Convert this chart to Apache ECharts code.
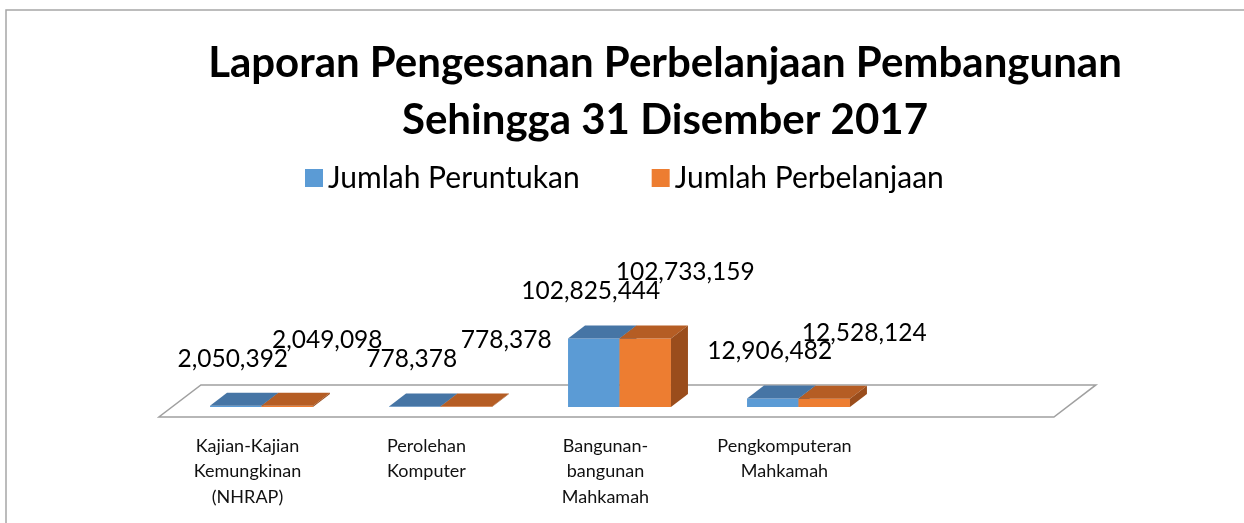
<!DOCTYPE html>
<html>
<head>
<meta charset="utf-8">
<script src="https://cdn.jsdelivr.net/npm/echarts@6/dist/echarts.min.js"></script>
<style>
  html, body { margin: 0; padding: 0; background: #fff; }
  #chart { width: 1244px; height: 523px; }
</style>
</head>
<body>
<div id="chart"></div>
<script>
  // data
  const categories = [
    "Kajian-Kajian\nKemungkinan\n(NHRAP)",
    "Perolehan\nKomputer",
    "Bangunan-\nbangunan\nMahkamah",
    "Pengkomputeran\nMahkamah",
    "",
  ]
  const seriesNames = ["Jumlah Peruntukan", "Jumlah Perbelanjaan"]
  const peruntukan = [2050392, 778378, 102825444, 12906482]
  const perbelanjaan = [2049098, 778378, 102733159, 12528124]

  const FONT = "Lato"
  const DX = 17, DY = -13 // depth of the 3d boxes

  // front / top / side shades per series
  const shades = [
    { front: "#5b9bd5", top: "#4675a5", side: "#3f6d99" },
    { front: "#ed7d31", top: "#b55d24", side: "#9a4d1c" },
  ]
  // label offsets per series (dx from bar centre, dy above bar top)
  const labelPos = [
    { dx: -3, dy: -47 },
    { dx: 40, dy: -66 },
  ]

  function fmt(v) {
    return Number(v).toLocaleString("en-US")
  }

  function boxRender(s) {
    return function (params, api) {
      const i = api.value(0)
      const v = api.value(1)
      const top = api.coord([i, v])
      const base = api.coord([i, 0])
      const bw = api.size([1, 0])[0] * 0.2875
      const x0 = top[0] - bw + s * bw
      const y1 = top[1]
      const y0 = base[1]
      const c = shades[s]
      return {
        type: "group",
        children: [
          {
            type: "rect",
            shape: { x: x0, y: y1, width: bw, height: y0 - y1 },
            style: { fill: c.front },
          },
          {
            type: "polygon",
            shape: { points: [[x0, y1], [x0 + bw, y1], [x0 + bw + DX, y1 + DY], [x0 + DX, y1 + DY]] },
            style: { fill: c.top },
          },
          {
            type: "polygon",
            shape: { points: [[x0 + bw, y1], [x0 + bw, y0], [x0 + bw + DX, y0 + DY], [x0 + bw + DX, y1 + DY]] },
            style: { fill: c.side },
          },
          {
            type: "text",
            z2: 10,
            style: {
              text: fmt(v),
              x: x0 + bw / 2 + labelPos[s].dx,
              y: y1 + labelPos[s].dy,
              align: "center",
              verticalAlign: "middle",
              font: "24.5px " + FONT,
              fill: "#000",
            },
          },
        ],
      }
    }
  }

  function floorRender(params, api) {
    const cs = params.coordSys
    const l = cs.x, r = cs.x + cs.width, b = cs.y + cs.height
    const f = -0.77, k = 1.7
    return {
      type: "polygon",
      shape: {
        points: [
          [l + f * DX, b + f * DY],
          [r + f * DX, b + f * DY],
          [r + k * DX, b + k * DY],
          [l + k * DX, b + k * DY],
        ],
      },
      style: { fill: "#fff", stroke: "#a0a0a0", lineWidth: 1.5 },
    }
  }

  const chart = echarts.init(document.getElementById("chart"))
  const option = {
    backgroundColor: "#fff",
    animation: false,
    graphic: [
      {
        type: "rect",
        shape: { x: 6, y: 10, width: 1400, height: 700 },
        style: { fill: "none", stroke: "#a6a6a6", lineWidth: 1.5 },
        silent: true,
      },
    ],
    title: {
      text: "Laporan Pengesanan Perbelanjaan Pembangunan\nSehingga 31 Disember 2017",
      left: 660,
      top: 30,
      textAlign: "center",
      textStyle: {
        fontFamily: FONT,
        fontWeight: "bold",
        fontSize: 42,
        lineHeight: 57,
        color: "#000",
      },
    },
    legend: {
      left: 300,
      top: 158,
      icon: "rect",
      itemWidth: 18,
      itemHeight: 18,
      itemGap: 72,
      textStyle: { fontFamily: FONT, fontSize: 30, color: "#000" },
      data: [
        { name: seriesNames[0], itemStyle: { color: shades[0].front } },
        { name: seriesNames[1], itemStyle: { color: shades[1].front } },
      ],
    },
    grid: { left: 172, right: 177, top: 327, bottom: 116 },
    xAxis: {
      type: "category",
      data: categories,
      axisLine: { show: false },
      axisTick: { show: false },
      axisLabel: {
        margin: 26,
        interval: 0,
        fontFamily: FONT,
        fontSize: 18,
        lineHeight: 25.5,
        color: "#111",
        padding: [0, 28, 0, 0],
        verticalAlign: "top",
      },
    },
    yAxis: {
      type: "value",
      min: 0,
      max: 120000000,
      show: false,
    },
    series: [
      {
        type: "custom",
        name: "floor",
        silent: true,
        z: 1,
        clip: false,
        data: [[0, 0]],
        renderItem: floorRender,
      },
      {
        type: "custom",
        name: seriesNames[0],
        z: 2,
        clip: false,
        itemStyle: { color: shades[0].front },
        encode: { x: 0, y: 1 },
        data: peruntukan.map((v, i) => [i, v]),
        renderItem: boxRender(0),
      },
      {
        type: "custom",
        name: seriesNames[1],
        z: 3,
        clip: false,
        itemStyle: { color: shades[1].front },
        encode: { x: 0, y: 1 },
        data: perbelanjaan.map((v, i) => [i, v]),
        renderItem: boxRender(1),
      },
    ],
  }
  chart.setOption(option)
</script>
</body>
</html>
